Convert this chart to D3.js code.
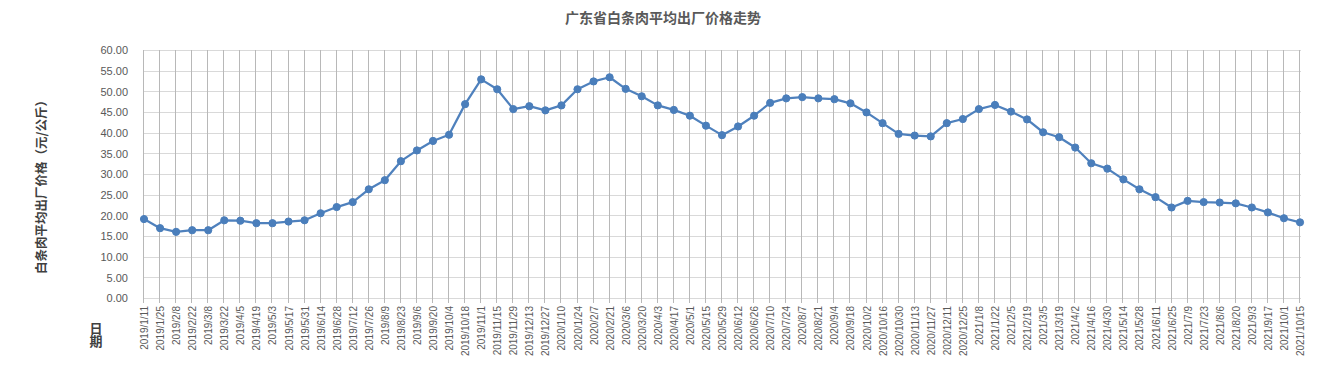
<!DOCTYPE html>
<html>
<head>
<meta charset="utf-8">
<script src="https://cdn.jsdelivr.net/npm/d3@7"></script>
<style>
  body { margin: 0; background: #fff; }
  svg text { font-family: "Noto Sans CJK SC", "Microsoft YaHei", sans-serif; }
</style>
</head>
<body>
<div id="chart"></div>
<script>
// chart data
const title = "广东省白条肉平均出厂价格走势";
const yLabel = "白条肉平均出厂价格（元/公斤）";
const xLabel = "日期";

const dates = [
  "2019/1/11","2019/1/25","2019/2/8","2019/2/22","2019/3/8","2019/3/22","2019/4/5","2019/4/19",
  "2019/5/3","2019/5/17","2019/5/31","2019/6/14","2019/6/28","2019/7/12","2019/7/26","2019/8/9",
  "2019/8/23","2019/9/6","2019/9/20","2019/10/4","2019/10/18","2019/11/1","2019/11/15","2019/11/29",
  "2019/12/13","2019/12/27","2020/1/10","2020/1/24","2020/2/7","2020/2/21","2020/3/6","2020/3/20",
  "2020/4/3","2020/4/17","2020/5/1","2020/5/15","2020/5/29","2020/6/12","2020/6/26","2020/7/10",
  "2020/7/24","2020/8/7","2020/8/21","2020/9/4","2020/9/18","2020/10/2","2020/10/16","2020/10/30",
  "2020/11/13","2020/11/27","2020/12/11","2020/12/25","2021/1/8","2021/1/22","2021/2/5","2021/2/19",
  "2021/3/5","2021/3/19","2021/4/2","2021/4/16","2021/4/30","2021/5/14","2021/5/28","2021/6/11",
  "2021/6/25","2021/7/9","2021/7/23","2021/8/6","2021/8/20","2021/9/3","2021/9/17","2021/10/1",
  "2021/10/15"
];

const prices = [
  19.1, 16.9, 16.0, 16.4, 16.4, 18.8, 18.7, 18.1,
  18.1, 18.5, 18.8, 20.5, 22.0, 23.2, 26.3, 28.5,
  33.1, 35.7, 38.0, 39.5, 46.9, 52.9, 50.5, 45.7,
  46.4, 45.4, 46.6, 50.5, 52.4, 53.4, 50.6, 48.8,
  46.6, 45.5, 44.1, 41.7, 39.4, 41.5, 44.1, 47.2,
  48.3, 48.6, 48.3, 48.1, 47.1, 44.9, 42.3, 39.7,
  39.3, 39.1, 42.3, 43.3, 45.7, 46.7, 45.1, 43.2,
  40.1, 38.9, 36.4, 32.6, 31.3, 28.7, 26.3, 24.4,
  21.9, 23.5, 23.2, 23.1, 22.9, 21.9, 20.7, 19.3,
  18.3
];

const yTicks = [0, 5, 10, 15, 20, 25, 30, 35, 40, 45, 50, 55, 60];

const width = 1327, height = 369;
const margin = { top: 50, right: 27, bottom: 71, left: 144 };

const svg = d3.select("#chart").append("svg")
  .attr("width", width)
  .attr("height", height);

// title
svg.append("text")
  .attr("x", 663)
  .attr("y", 23)
  .attr("text-anchor", "middle")
  .style("font-size", "14px")
  .style("font-weight", "bold")
  .style("fill", "#595959")
  .text(title);

const x = d3.scalePoint()
  .domain(dates)
  .range([margin.left, width - margin.right]);

const y = d3.scaleLinear()
  .domain([0, 60])
  .range([height - margin.bottom, margin.top]);

// horizontal grid
svg.append("g")
  .selectAll("line")
  .data(yTicks)
  .join("line")
  .attr("x1", margin.left - 1)
  .attr("x2", width - margin.right + 1)
  .attr("y1", d => Math.round(y(d)) + 0.5)
  .attr("y2", d => Math.round(y(d)) + 0.5)
  .attr("stroke", "#d9d9d9")
  .attr("stroke-width", 1);

// vertical grid, runs a few px past the axis as tick marks
svg.append("g")
  .selectAll("line")
  .data(dates)
  .join("line")
  .attr("x1", d => Math.round(x(d)) - 0.5)
  .attr("x2", d => Math.round(x(d)) - 0.5)
  .attr("y1", margin.top)
  .attr("y2", height - margin.bottom + 5)
  .attr("stroke", "#b8b8b8")
  .attr("stroke-width", 1);

// y axis labels
const yAxis = svg.append("g")
  .attr("transform", `translate(${margin.left - 16},0)`)
  .call(d3.axisLeft(y).tickValues(yTicks).tickFormat(d3.format(".2f")).tickSize(0));
yAxis.select(".domain").remove();
yAxis.selectAll("text")
  .attr("x", 0)
  .attr("dy", "0.35em")
  .style("font-family", "'Liberation Sans', Arial, sans-serif")
  .style("font-size", "11px")
  .style("fill", "#595959");

// x axis labels, rotated
const xAxis = svg.append("g")
  .attr("transform", `translate(0,${height - margin.bottom})`)
  .call(d3.axisBottom(x).tickSize(0));
xAxis.select(".domain").remove();
xAxis.selectAll("text")
  .attr("transform", "rotate(-90)")
  .attr("x", -8)
  .attr("y", 0)
  .attr("dy", "0.35em")
  .attr("text-anchor", "end")
  .style("font-family", "'Liberation Sans', Arial, sans-serif")
  .style("font-size", "10px")
  .style("fill", "#595959");

// y axis title
svg.append("text")
  .attr("transform", "translate(42,184) rotate(-90)")
  .attr("text-anchor", "middle")
  .attr("dy", "0.35em")
  .style("font-size", "12.5px")
  .style("font-weight", "bold")
  .style("fill", "#404040")
  .text(yLabel);

// x axis title, written top to bottom
svg.append("text")
  .attr("x", 96)
  .attr("y", 322)
  .style("writing-mode", "vertical-rl")
  .style("font-size", "13px")
  .style("font-weight", "bold")
  .style("fill", "#404040")
  .text(xLabel);

// line + markers
const line = d3.line()
  .x((d, i) => x(dates[i]))
  .y(d => y(d));

svg.append("path")
  .datum(prices)
  .attr("d", line)
  .attr("fill", "none")
  .attr("stroke", "#4f81bd")
  .attr("stroke-width", 2.25)
  .attr("stroke-linejoin", "round");

svg.append("g")
  .selectAll("circle")
  .data(prices)
  .join("circle")
  .attr("cx", (d, i) => x(dates[i]))
  .attr("cy", d => y(d))
  .attr("r", 3.6)
  .attr("fill", "#4a7ebb")
  .attr("stroke", "#4a7ebb")
  .attr("stroke-width", 1);
</script>
</body>
</html>
